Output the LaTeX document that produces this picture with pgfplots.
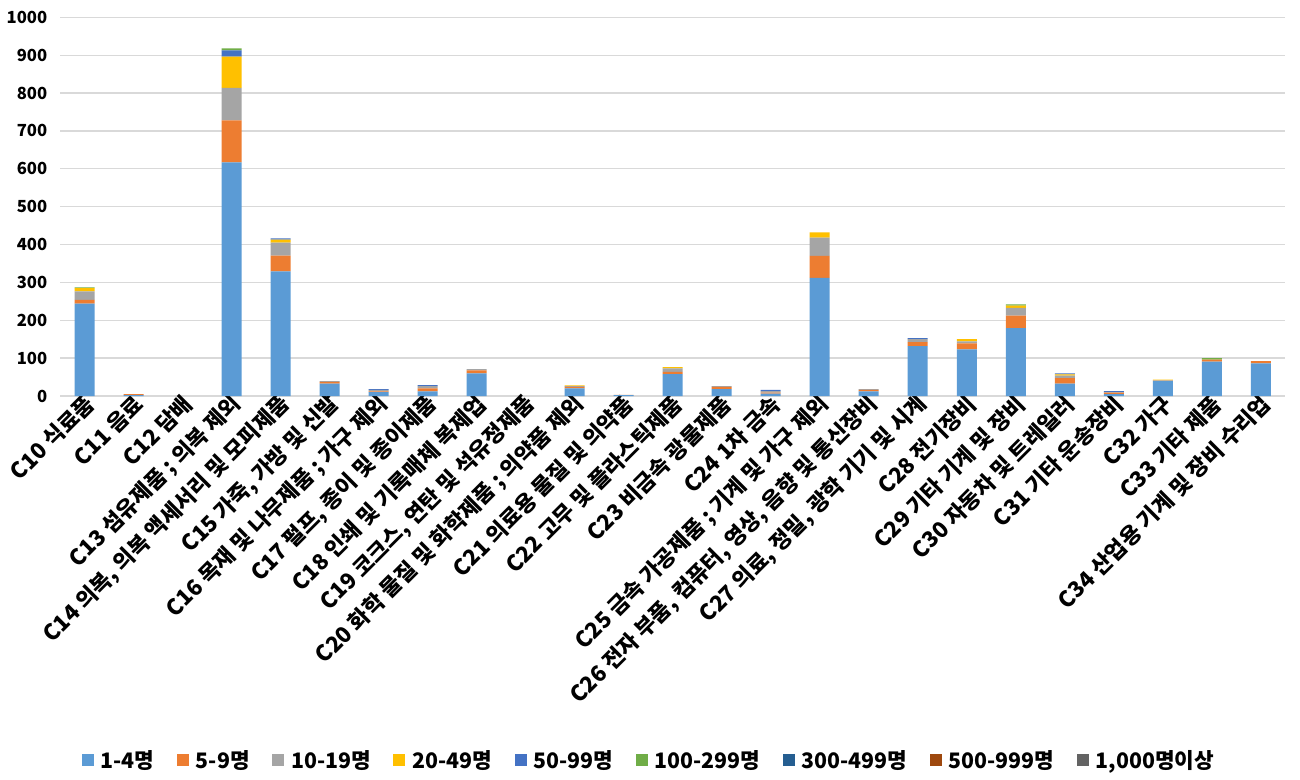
\documentclass[border=0pt]{standalone}
\usepackage{fontspec}
\setmainfont{Noto Sans CJK KR}
\usepackage{pgfplots}
\usepackage{pgfplotstable}
\pgfplotsset{compat=1.18}

\definecolor{c1}{HTML}{5B9BD5}
\definecolor{c2}{HTML}{ED7D31}
\definecolor{c3}{HTML}{A5A5A5}
\definecolor{c4}{HTML}{FFC000}
\definecolor{c5}{HTML}{4472C4}
\definecolor{c6}{HTML}{70AD47}
\definecolor{c7}{HTML}{255E91}
\definecolor{c8}{HTML}{9E480E}
\definecolor{c9}{HTML}{636363}
\definecolor{gridgray}{HTML}{D9D9D9}

% columns: 1-4, 5-9, 10-19, 20-49, 50-99, 100-299, 300-499, 500-999, 1000+
\pgfplotstableread{
x  a   b   c  d  e  f g h i
0  244 10  22 9  0  2 0 0 0
1  2   3   0  0  0  0 0 0 0
2  0   0   0  0  0  0 0 0 0
3  617 111 86 82 17 5 0 0 0
4  329 42  34 8  3  0 0 0 0
5  33  4   2  0  0  0 0 0 0
6  10  2   4  0  2  0 0 0 0
7  12  8   6  0  3  0 0 0 0
8  60  8   3  0  0  0 0 0 0
9  0   0   0  0  0  0 0 0 0
10 20  4   2  2  0  0 0 0 0
11 2   1   0  0  0  0 0 0 0
12 58  6   9  3  0  0 0 0 0
13 18  6   2  0  0  0 0 0 0
14 6   3   4  0  3  0 0 0 0
15 312 58  48 14 0  0 0 0 0
16 12  4   2  0  0  0 0 0 0
17 132 10  8  0  3  0 0 0 0
18 123 16  5  6  0  0 0 0 0
19 179 33  21 6  0  3 0 0 0
20 33  14  7  3  3  0 0 0 0
21 5   4   1  0  3  0 0 0 0
22 39  1   1  2  0  0 0 0 0
23 91  5   0  0  0  4 0 0 0
24 86  6   0  0  0  0 0 0 0
}\sizes

\begin{document}
\begin{tikzpicture}
\useasboundingbox (0,0) rectangle (975pt,584.25pt);
\begin{axis}[
    at={(45pt,287.25pt)}, anchor=south west,
    width=919pt, height=284pt, scale only axis,
    ybar stacked, bar width=15pt,
    xmin=-0.5, xmax=24.5, ymin=0, ymax=1000,
    ytick={0,100,...,1000},
    xtick={0,...,24},
    xticklabels={C10 식료품, C11 음료, C12 담배, C13 섬유제품 ; 의복 제외,
      {C14 의복, 의복 액세서리 및 모피제품}, {C15 가죽, 가방 및 신발},
      C16 목재 및 나무제품 ; 가구 제외, {C17 펄프, 종이 및 종이제품},
      C18 인쇄 및 기록매체 복제업, {C19 코크스, 연탄 및 석유정제품},
      C20 화학 물질 및 화학제품 ; 의약품 제외, C21 의료용 물질 및 의약품,
      C22 고무 및 플라스틱제품, C23 비금속 광물제품, C24 1차 금속,
      C25 금속 가공제품 ; 기계 및 가구 제외,
      {C26 전자 부품, 컴퓨터, 영상, 음향 및 통신장비},
      {C27 의료, 정밀, 광학 기기 및 시계}, C28 전기장비,
      C29 기타 기계 및 장비, C30 자동차 및 트레일러, C31 기타 운송장비,
      C32 가구, C33 기타 제품, C34 산업용 기계 및 장비 수리업},
    xticklabel style={rotate=45, anchor=east, font=\fontsize{16.5}{18}\selectfont\bfseries, inner sep=1pt, yshift=-5pt, xshift=2pt},
    yticklabel style={font=\fontsize{12.5}{14}\selectfont\bfseries, xshift=-6pt},
    /pgf/number format/assume math mode=true,
    /pgf/number format/1000 sep={},
    major tick length=0pt,
    ymajorgrids, grid style={gridgray, line width=1pt},
    axis y line*=left, y axis line style={draw=none},
    axis x line*=bottom, x axis line style={gridgray, line width=1pt},
    legend columns=9,
    legend style={at={(axis description cs:0.481,-0.962)}, anchor=center,
      draw=none, font=\fontsize{16}{18}\selectfont\bfseries,
      /tikz/every even column/.append style={column sep=15pt}},
    legend image code/.code={\fill[#1] (0pt,-4.5pt) rectangle (9pt,4.5pt); \path (12pt,0pt);},
  ]
\addplot[fill=c1, draw=none] table[x=x, y=a] {\sizes};
\addplot[fill=c2, draw=none] table[x=x, y=b] {\sizes};
\addplot[fill=c3, draw=none] table[x=x, y=c] {\sizes};
\addplot[fill=c4, draw=none] table[x=x, y=d] {\sizes};
\addplot[fill=c5, draw=none] table[x=x, y=e] {\sizes};
\addplot[fill=c6, draw=none] table[x=x, y=f] {\sizes};
\addplot[fill=c7, draw=none] table[x=x, y=g] {\sizes};
\addplot[fill=c8, draw=none] table[x=x, y=h] {\sizes};
\addplot[fill=c9, draw=none] table[x=x, y=i] {\sizes};
\legend{1-4명, 5-9명, 10-19명, 20-49명, 50-99명, 100-299명, 300-499명, 500-999명, 1{,}000명이상}
\end{axis}
\end{tikzpicture}
\end{document}
